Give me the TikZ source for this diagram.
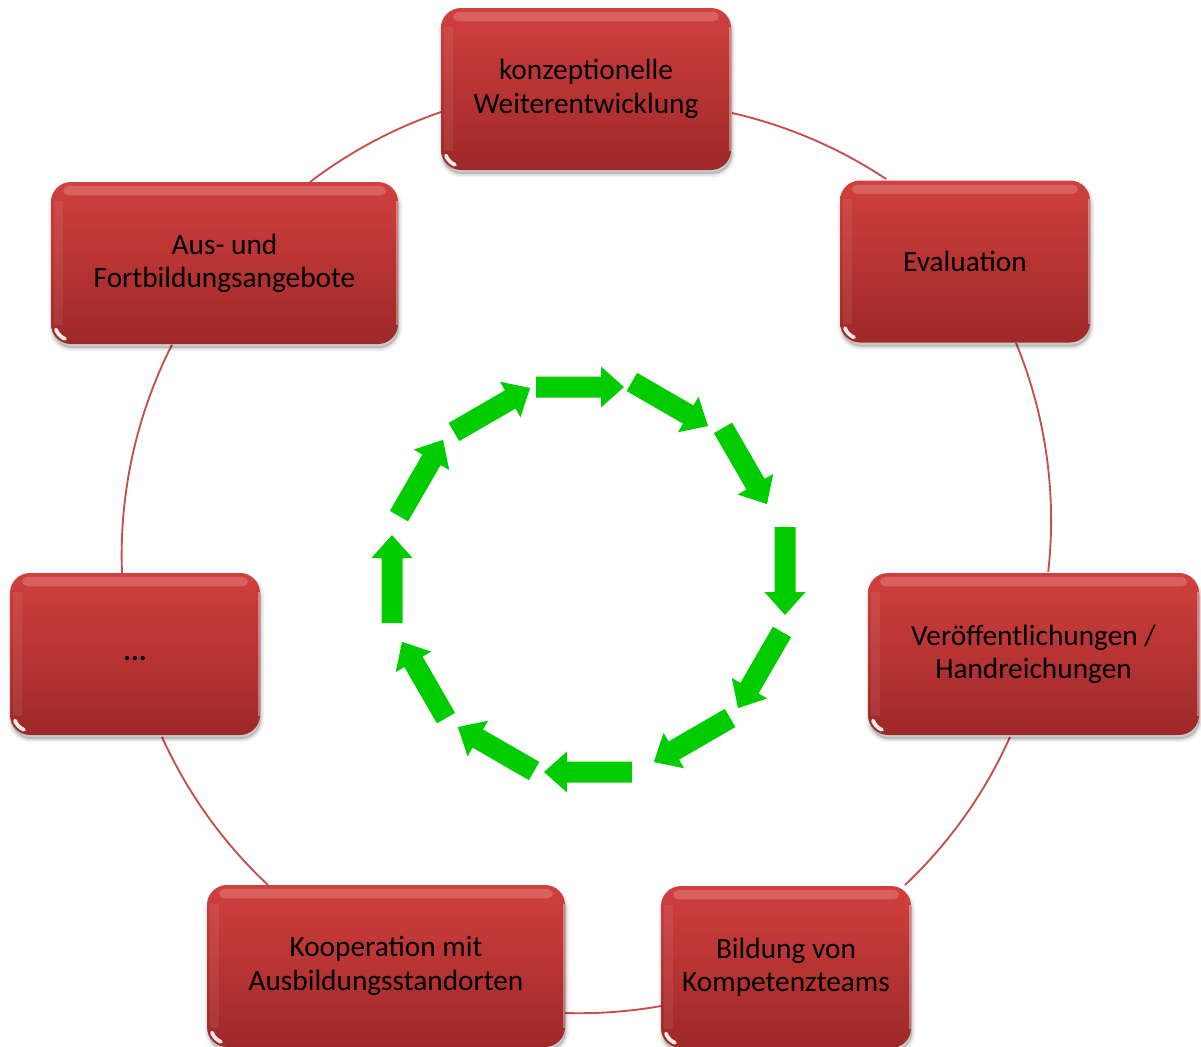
\documentclass[tikz,border=0pt]{standalone}
\usepackage{fontspec}
\setmainfont{Carlito}
\usetikzlibrary{calc}
\pgfdeclarelayer{background}
\pgfsetlayers{background,main}
\definecolor{boxtop}{RGB}{208,64,62}
\definecolor{boxbot}{RGB}{158,40,40}
\definecolor{ringred}{RGB}{196,80,78}
\definecolor{arrowgreen}{RGB}{0,204,0}
\tikzset{
  softshadow/.style={
    preaction={draw=black, line width=5pt, draw opacity=0.05, fill=black, fill opacity=0.05, transform canvas={xshift=0.8pt, yshift=-3pt}},
    preaction={draw=black, line width=2.5pt, draw opacity=0.07, transform canvas={xshift=0.8pt, yshift=-3pt}},
    preaction={fill=black, fill opacity=0.12, transform canvas={xshift=0.8pt, yshift=-3pt}}},
  box/.style={rectangle, rounded corners=15pt, top color=boxtop, bottom color=boxbot,
    draw=none, minimum height=121.5pt, inner sep=0pt, outer sep=0pt, align=center,
    text=black, font=\fontsize{22pt}{25pt}\selectfont, softshadow,
    path picture={
      \fill[white, opacity=0.18, rounded corners=4pt]
        ([shift={(9pt,-3pt)}]path picture bounding box.north west) rectangle
        ([shift={(-9pt,-10pt)}]path picture bounding box.north east);
      \fill[white, opacity=0.07, sharp corners]
        ([shift={(2pt,-14pt)}]path picture bounding box.north west) rectangle
        ([shift={(9pt,14pt)}]path picture bounding box.south west);
      \draw[white, opacity=0.35, line width=1.2pt, sharp corners]
        ([shift={(-0.8pt,-14pt)}]path picture bounding box.north east) --
        ([shift={(-0.8pt,14pt)}]path picture bounding box.south east);
      \draw[white, opacity=0.9, line width=2.8pt, line cap=round]
        ([shift={(3.7pt,10.9pt)}]path picture bounding box.south west)
        arc[start angle=200, end angle=248, radius=12pt];
    }},
  bw/.style={minimum width=#1*0.75pt},
  ring/.style={draw=ringred, line width=1.4pt},
  garrow/.style={fill=arrowgreen, draw=none}
}
\begin{document}
\begin{tikzpicture}[x=0.75pt, y=-0.75pt]
\begin{pgfonlayer}{background}
\fill[white] (0,0) rectangle (1201,1046);
\end{pgfonlayer}
\useasboundingbox (0,0) rectangle (1201,1046);

% boxes
\node[box, bw=290] (top)     at (586,89)     {konzeptionelle\\Weiterentwicklung};
\node[box, bw=250] (eval)    at (965,261.5)  {Evaluation};
\node[box, bw=331] (veroff)  at (1033.5,654) {Veröffentlichungen /\\Handreichungen};
\node[box, bw=250] (bildung) at (786,967)    {Bildung von\\Kompetenzteams};
\node[box, bw=358] (koop)    at (386,966)    {Kooperation mit\\Ausbildungsstandorten};
\node[box, bw=250] (dots)    at (135,654)    {\strut\textbf{...}};
\node[box, bw=347] (aus)     at (224.5,263)  {Aus- und\\Fortbildungsangebote};

% connector start points
\coordinate (cA) at ($(top.east)+(1,24)$);
\coordinate (cB) at ($(eval.south)+(51,0.5)$);
\coordinate (cC) at ($(veroff.south)+(-23.5,2)$);
\coordinate (cD) at ($(bildung.west)+(0,39)$);
\coordinate (cE) at ($(koop.north)+(-118,0)$);
\coordinate (cF) at ($(dots.north)+(-13,0)$);
\coordinate (cG) at ($(aus.north)+(85.5,0)$);

\begin{pgfonlayer}{background}
\draw[ring] (cA) arc[start angle=-77.2, end angle=-56.4, radius=465];
\draw[ring] (cB) arc[start angle=-22.4, end angle=6.4, radius=465];
\draw[ring] (cC) arc[start angle=24.1, end angle=46.6, radius=465];
\draw[ring] (cD) arc[start angle=79.9, end angle=91.8, radius=465];
\draw[ring] (cE) arc[start angle=133.1, end angle=155.7, radius=465];
\draw[ring] (cF) arc[start angle=177.8, end angle=206.9, radius=465];
\draw[ring] (cG) arc[start angle=232.7, end angle=251.1, radius=465];
\end{pgfonlayer}

% green cycle arrows
\foreach \x/\y/\k in {580/387/0, 670/404/1, 745/466/2, 785/571/3, 760/670/4, 692/740/5,
                      588/772/6, 496/749/7, 424/680/8, 392/579/9, 421/478/10, 492/410/11} {
  \fill[garrow, shift={(\x,\y)}, rotate=-30*\k]
    (-44,-10.5) -- (21,-10.5) -- (21,-20.5) -- (44,0) -- (21,20.5) -- (21,10.5) -- (-44,10.5) -- cycle;
}
\end{tikzpicture}
\end{document}
